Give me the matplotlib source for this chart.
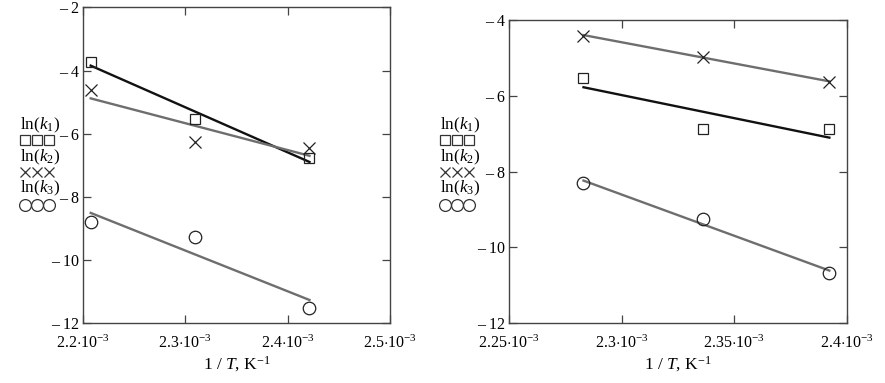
import numpy as np
import matplotlib
matplotlib.use("Agg")
import matplotlib.pyplot as plt
from matplotlib.lines import Line2D

plt.rcParams['font.family'] = ['Liberation Serif', 'DejaVu Serif']
plt.rcParams['mathtext.fontset'] = 'custom'
plt.rcParams['mathtext.rm'] = 'Liberation Serif'
plt.rcParams['mathtext.it'] = 'Liberation Serif:italic'
plt.rcParams['mathtext.bf'] = 'Liberation Serif:bold'

# ---- data: left panel ----
x_left = [2.2075e-3, 2.3095e-3, 2.4213e-3]
lnk1_left = [-3.72, -5.54, -6.78]
lnk2_left = [-4.62, -6.25, -6.46]
lnk3_left = [-8.80, -9.26, -11.53]
xticks_left = [2.2e-3, 2.3e-3, 2.4e-3, 2.5e-3]
xticklabels_left = [r'2.2$\cdot$10$^{-3}$', r'2.3$\cdot$10$^{-3}$', r'2.4$\cdot$10$^{-3}$', r'2.5$\cdot$10$^{-3}$']
yticks_left = [-12, -10, -8, -6, -4, -2]

# ---- data: right panel ----
x_right = [2.2831e-3, 2.3364e-3, 2.3923e-3]
lnk1_right = [-5.54, -6.88, -6.88]
lnk2_right = [-4.41, -4.97, -5.63]
lnk3_right = [-8.31, -9.25, -10.68]
xticks_right = [2.25e-3, 2.30e-3, 2.35e-3, 2.40e-3]
xticklabels_right = [r'2.25$\cdot$10$^{-3}$', r'2.3$\cdot$10$^{-3}$', r'2.35$\cdot$10$^{-3}$', r'2.4$\cdot$10$^{-3}$']
yticks_right = [-12, -10, -8, -6, -4]

legend_labels = [r'ln($k_1$)', r'ln($k_2$)', r'ln($k_3$)']

fig = plt.figure(figsize=(8.85, 3.83), dpi=100)

ax1 = fig.add_axes([0.0938, 0.1559, 0.3469, 0.825])
ax2 = fig.add_axes([0.5751, 0.1559, 0.3816, 0.7919])

spine_col = '#444444'
mk_col = '#222222'

def draw(ax, x, y1, y2, y3, xticks, xtl, yticks, xlim, ylim):
    x = np.array(x)
    for y, col in [(y1, '#111111'), (y2, '#6e6e6e'), (y3, '#6e6e6e')]:
        p = np.polyfit(x, y, 1)
        ax.plot(x, np.polyval(p, x), color=col, lw=1.7, zorder=2)
    ax.plot(x, y1, ls='none', marker='s', ms=7.5, mfc='none', mec=mk_col, mew=0.9, zorder=3)
    ax.plot(x, y2, ls='none', marker='x', ms=8, mec=mk_col, mew=0.9, zorder=3)
    ax.plot(x, y3, ls='none', marker='o', ms=9, mfc='none', mec=mk_col, mew=0.9, zorder=3)
    ax.set_xlim(*xlim)
    ax.set_ylim(*ylim)
    ax.set_xticks(xticks)
    ax.set_xticklabels(xtl, fontsize=11.5)
    ax.set_yticks(yticks)
    ax.set_yticklabels(['\u2013 ' + str(abs(v)) for v in yticks], fontsize=11.5)
    ax.tick_params(direction='in', length=6, width=0.9, color=spine_col,
                   top=True, right=True, pad=3)
    ax.tick_params(axis='x', pad=8)
    for s in ax.spines.values():
        s.set_color(spine_col)
        s.set_linewidth(1.0)
    ax.set_xlabel(r'1 / $T$, K$^{-1}$', fontsize=12.5, labelpad=2)

draw(ax1, x_left, lnk1_left, lnk2_left, lnk3_left, xticks_left, xticklabels_left,
     yticks_left, (2.2e-3, 2.5e-3), (-12, -2))
draw(ax2, x_right, lnk1_right, lnk2_right, lnk3_right, xticks_right, xticklabels_right,
     yticks_right, (2.25e-3, 2.40e-3), (-12, -4))

def legend(x0):
    ys_text = [125, 157, 188]
    ys_mark = [140, 172, 205]
    markers = [('s', 7, 'none'), ('x', 7, None), ('o', 8.5, 'none')]
    for lab, yt, ym, (m, ms, fc) in zip(legend_labels, ys_text, ys_mark, markers):
        fig.text(x0 / 885, 1 - yt / 383, lab, fontsize=12.3, va='center', ha='left')
        for k in range(3):
            xx = (x0 + 5 + k * 12) / 885
            kw = dict(mfc='none') if fc == 'none' else {}
            fig.add_artist(Line2D([xx], [1 - ym / 383], transform=fig.transFigure,
                                  ls='none', marker=m, ms=ms, mec='#333333', mew=0.9, **kw))

legend(20)
legend(440)

fig.savefig('out.png', dpi=100)
